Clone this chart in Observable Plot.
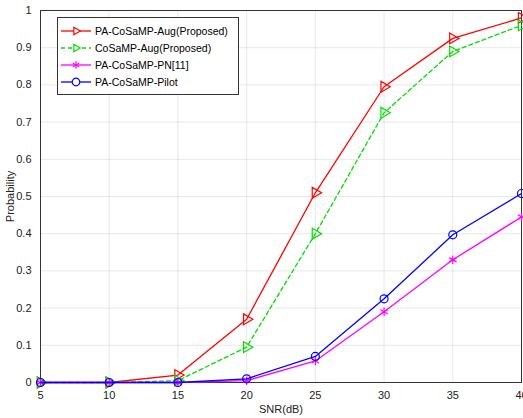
<!DOCTYPE html>
<html><head><meta charset="utf-8">
<script src="https://cdn.jsdelivr.net/npm/d3@7"></script>
<script src="https://cdn.jsdelivr.net/npm/@observablehq/plot@0.6"></script>
<style>
body{margin:0;background:#fff;font-family:Arial,"Liberation Sans",sans-serif}
#wrap{position:relative;width:523px;height:418px}
#legend{position:absolute;left:57px;top:17px;width:180px;background:#fff;border:1px solid #333;font-size:10.5px;padding:4px 0;white-space:nowrap}
#legend div{display:flex;align-items:center;height:17px}
#legend svg{margin:0 4px 0 3px;flex:none}
</style></head><body>
<div id="wrap"><div id="legend"></div></div>
<script>
const snr = [5, 10, 15, 20, 25, 30, 35, 40];
const paAug = [0, 0, 0.02, 0.17, 0.51, 0.795, 0.925, 0.98];
const cosampAug = [0, 0, 0.005, 0.095, 0.4, 0.725, 0.89, 0.96];
const paPN = [0, 0, 0, 0.005, 0.058, 0.19, 0.33, 0.445];
const paPilot = [0, 0, 0, 0.01, 0.07, 0.225, 0.397, 0.508];

const series = [
  {name: "PA-CoSaMP-Aug(Proposed)", vals: paAug, color: "#ff0000", symbol: "triangle", rotate: 90, dash: null},
  {name: "CoSaMP-Aug(Proposed)", vals: cosampAug, color: "#00dd00", symbol: "triangle", rotate: 90, dash: "4,3"},
  {name: "PA-CoSaMP-PN[11]", vals: paPN, color: "#ff00ff", symbol: "asterisk", rotate: 0, dash: null},
  {name: "PA-CoSaMP-Pilot", vals: paPilot, color: "#0000ff", symbol: "circle", rotate: 0, dash: null}
];

const marks = [Plot.frame({stroke: "#333"})];
for (const s of series) {
  const d = snr.map((x, i) => ({x, y: s.vals[i]}));
  marks.push(Plot.line(d, {x: "x", y: "y", stroke: s.color, strokeWidth: 1.3, strokeDasharray: s.dash}));
  marks.push(Plot.dot(d, {x: "x", y: "y", stroke: s.color, fill: "none", symbol: s.symbol, rotate: s.rotate, r: 4, strokeWidth: 1.2}));
}

const plot = Plot.plot({
  width: 523, height: 418,
  marginLeft: 40, marginRight: 2, marginTop: 10, marginBottom: 36,
  style: {fontSize: "11px", fontFamily: "Arial, 'Liberation Sans', sans-serif", color: "#222"},
  x: {domain: [5, 40], ticks: snr, label: "SNR(dB)", labelAnchor: "center", labelArrow: "none", grid: true, tickSize: 0, labelOffset: 30},
  y: {domain: [0, 1], ticks: d3.range(0, 1.01, 0.1), tickFormat: d => d === 0 || d === 1 ? d3.format("d")(d) : d3.format(".1f")(d),
      label: "Probability", labelAnchor: "center", labelArrow: "none", grid: true, tickSize: 0, labelOffset: 34},
  marks
});
const wrap = document.getElementById("wrap");
wrap.insertBefore(plot, wrap.firstChild);

const leg = document.getElementById("legend");
for (const s of series) {
  const row = document.createElement("div");
  const path = s.symbol === "triangle" ? d3.symbol(d3.symbolTriangle2, 40)() :
               s.symbol === "asterisk" ? d3.symbol(d3.symbolAsterisk, 40)() : d3.symbol(d3.symbolCircle, 45)();
  row.innerHTML = `<svg width="30" height="12"><line x1="0" x2="30" y1="6" y2="6" stroke="${s.color}" stroke-width="1.3" ${s.dash ? `stroke-dasharray="${s.dash}"` : ""}/>
    <path d="${path}" transform="translate(15,6) rotate(${s.rotate})" fill="white" stroke="${s.color}" stroke-width="1.2"/></svg><span>${s.name}</span>`;
  leg.appendChild(row);
}
</script></body></html>
